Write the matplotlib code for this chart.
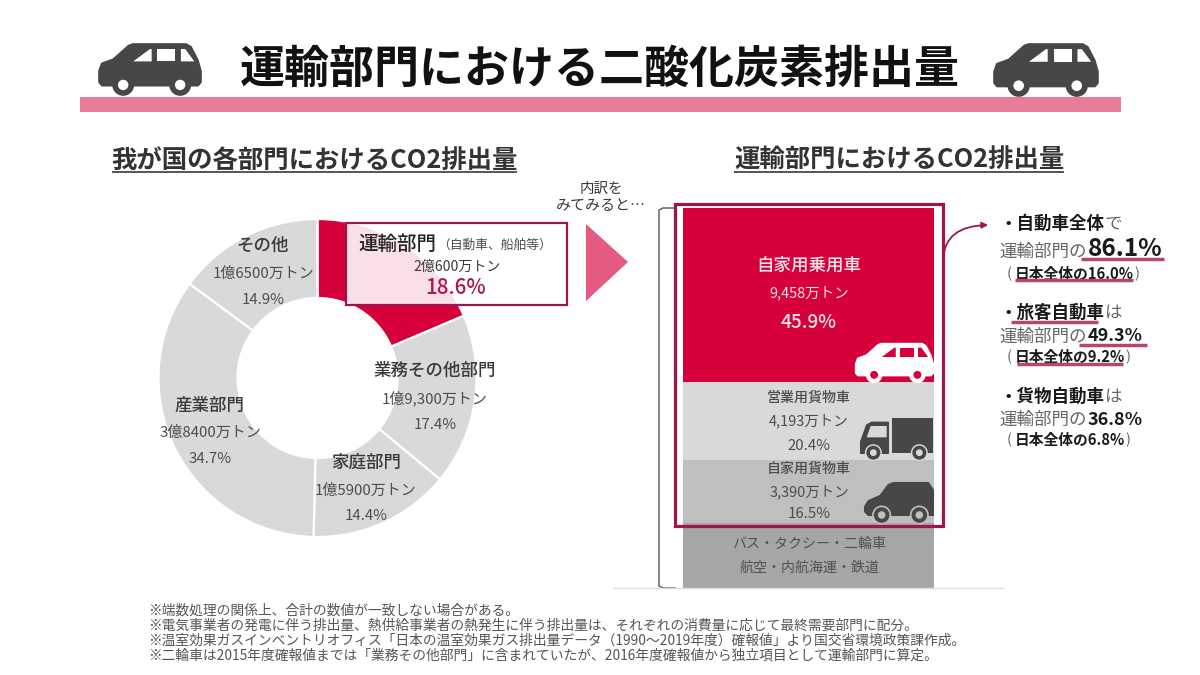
import matplotlib
matplotlib.use("Agg")
import matplotlib.pyplot as plt
from matplotlib.patches import Polygon, Circle, Rectangle, FancyArrowPatch

plt.rcParams['font.family'] = ['Noto Sans CJK JP', 'DejaVu Sans']

# ---------- data ----------
sector_names = ['運輸部門', '業務その他部門', '家庭部門', '産業部門', 'その他']
sector_tons = ['2億600万トン', '1億9,300万トン', '1億5900万トン', '3億8400万トン', '1億6500万トン']
sector_share = [18.6, 17.4, 14.4, 34.7, 14.9]
sector_colors = ['#D6003A', '#D9D9D9', '#D9D9D9', '#D9D9D9', '#D9D9D9']

transport_names = ['自家用乗用車', '営業用貨物車', '自家用貨物車', 'その他']
transport_tons = ['9,458万トン', '4,193万トン', '3,390万トン', '']
transport_share = [45.9, 20.4, 16.5, 17.2]
transport_colors = ['#D6003A', '#D9D9D9', '#BFBFBF', '#A6A6A6']

footnotes = [
    '※端数処理の関係上、合計の数値が一致しない場合がある。',
    '※電気事業者の発電に伴う排出量、熱供給事業者の熱発生に伴う排出量は、それぞれの消費量に応じて最終需要部門に配分。',
    '※温室効果ガスインベントリオフィス「日本の温室効果ガス排出量データ（1990～2019年度）確報値」より国交省環境政策課作成。',
    '※二輪車は2015年度確報値までは「業務その他部門」に含まれていたが、2016年度確報値から独立項目として運輸部門に算定。',
]

W, H = 1200, 675
fig = plt.figure(figsize=(12, 6.75), dpi=100, facecolor='white')

def axes_px(x0, y0, x1, y1, z):
    return fig.add_axes([x0 / W, 1 - y1 / H, (x1 - x0) / W, (y1 - y0) / H], zorder=z)

# ---------- donut ----------
cx, cy, R = 317.5, 378, 159
pax = axes_px(cx - R, cy - R, cx + R, cy + R, 1)
pax.pie(sector_share, colors=sector_colors, startangle=90, counterclock=False, radius=1,
        wedgeprops=dict(width=1 - 80 / 159, edgecolor='white', linewidth=1.6))
pax.set_xlim(-1, 1); pax.set_ylim(-1, 1); pax.set_aspect('equal')

# ---------- stacked bar ----------
bax = axes_px(683, 208, 934, 588, 1)
bottom = 0
for v, c in zip(transport_share, transport_colors):
    bax.bar(0, v, bottom=bottom, width=1, color=c, linewidth=0)
    bottom += v
bax.set_xlim(-.5, .5); bax.set_ylim(100, 0); bax.axis('off')

# ---------- overlay in pixel space ----------
ax = fig.add_axes([0, 0, 1, 1], zorder=5)
ax.set_xlim(0, W); ax.set_ylim(H, 0); ax.axis('off'); ax.patch.set_alpha(0)

DARK = '#3A3A3A'; GRAY = '#4D4D4D'; MAROON = '#9C174E'; UL = '#B5476F'

def T(x, y, s, px, color=DARK, weight='normal', ha='center', z=10):
    return ax.text(x, y + 1.8, s, fontsize=px * 0.72, color=color, fontweight=weight,
                   ha=ha, va='center', zorder=z)

def car(x, y, w, body, win, hub):
    p = lambda pts: [(x + a * w, y + b * w) for a, b in pts]
    ax.add_patch(Polygon(p([(.015, .27), (.04, .2), (.15, .16), (.295, .03), (.335, .015), (.845, .015), (.89, .04),
                            (.955, .165), (.985, .27), (.985, .375), (.96, .405), (.04, .405), (.015, .375)]),
                         closed=True, fc=body, ec=body, lw=2.0, joinstyle='round', zorder=6))
    for w_pts in ([(.339, .177), (.5, .058), (.516, .058), (.516, .177)],
                  [(.571, .058), (.742, .058), (.742, .177), (.571, .177)],
                  [(.797, .058), (.839, .058), (.926, .177), (.797, .177)]):
        ax.add_patch(Polygon(p(w_pts), closed=True, fc=win, ec='none', zorder=7))
    for wx in (.242, .79):
        c = (x + wx * w, y + .403 * w)
        ax.add_patch(Circle(c, .105 * w, fc=body, ec='none', zorder=8))
        ax.add_patch(Circle(c, .05 * w, fc=hub, ec='none', zorder=9))

# header
T(600, 68, '運輸部門における二酸化炭素排出量', 45, color='#111111', weight='bold')
ax.add_patch(Rectangle((80, 97), 1041, 15, fc='#EA7C9A', ec='none'))
car(98, 43, 104, '#474747', 'white', 'white')
car(993, 43, 106, '#474747', 'white', 'white')

# sub headings
T(314.5, 158.5, '我が国の各部門におけるCO2排出量', 25.4, color='#333333', weight='bold')
ax.plot([113, 516], [172, 172], color='#555555', lw=1.4)
T(899, 158.5, '運輸部門におけるCO2排出量', 25.4, color='#333333', weight='bold')
ax.plot([735, 1063], [172, 172], color='#555555', lw=1.4)

# donut labels
pos = {1: (435, 369, 397, 423), 2: (366, 461, 489, 514), 3: (210, 404, 431, 457), 4: (263, 244, 272, 298)}
for i, (x, y1, y2, y3) in pos.items():
    T(x, y1, sector_names[i], 17.5, weight=500)
    T(x, y2, sector_tons[i], 15, color=GRAY)
    T(x, y3, f'{sector_share[i]}%', 15, color=GRAY)

# highlight box
ax.add_patch(Rectangle((346, 223), 221, 82, fc=(1, 1, 1, .88), ec=MAROON, lw=1.6, zorder=6))
T(397, 242, sector_names[0], 19.5, color='#222222', weight=500)
T(495, 243, '（自動車、船舶等）', 12.8, color=GRAY)
T(457, 265, sector_tons[0], 14, color=DARK)
T(456, 286, f'{sector_share[0]}%', 20.5, color='#B01550', weight=500)

# arrow triangle
ax.add_patch(Polygon([(586, 224), (628, 262), (586, 301)], closed=True, fc='#E55A80', ec='none'))
T(601, 187, '内訳を', 14.5)
T(601, 204, 'みてみると…', 15)

# bracket
ax.plot([675, 663, 659, 659, 663, 675], [208, 208, 210, 586, 588, 588], color='#6E6E6E', lw=1.2)
ax.plot([614, 1003], [588, 588], color='#DDDDDD', lw=1)

# bar labels
T(809, 264, transport_names[0], 17.5, color='#F7E6EA', weight=500)
T(809, 291, transport_tons[0], 14.5, color='#F7E6EA')
T(809, 321, f'{transport_share[0]}%', 19, color='#F7E6EA', weight=500)
T(809, 396, transport_names[1], 14, color=GRAY, weight=500)
T(809, 419, transport_tons[1], 14.5, color=GRAY)
T(809, 444, f'{transport_share[1]}%', 15, color=GRAY)
T(809, 467, transport_names[2], 14, color=GRAY, weight=500)
T(809, 490, transport_tons[2], 14.5, color=GRAY)
T(809, 512, f'{transport_share[2]}%', 15, color=GRAY)
T(809, 542, 'バス・タクシー・二輪車', 14, color='#505050')
T(809, 566, '航空・内航海運・鉄道', 14, color='#505050')

# white car on red
car(855, 343, 79, 'white', '#D6003A', '#D6003A')

# truck
z = lambda pts: [(560 + a / 3, 170 + b / 3) for a, b in pts]
ICON = '#474747'
ax.add_patch(Polygon(z([(995, 745), (1120, 745), (1120, 850), (995, 850)]), closed=True, fc=ICON, ec='none', zorder=6))
ax.add_patch(Polygon(z([(902, 815), (920, 765), (935, 757), (985, 757), (985, 850), (902, 850)]), closed=True,
                     fc=ICON, ec=ICON, lw=1, joinstyle='round', zorder=6))
ax.add_patch(Polygon(z([(920, 802), (932, 768), (980, 768), (980, 802)]), closed=True, fc='#D9D9D9', ec='none', zorder=7))
for wx in (940, 1078):
    c = (560 + wx / 3, 170 + 848 / 3)
    ax.add_patch(Circle(c, 8.5, fc='#D9D9D9', ec='none', zorder=7))
    ax.add_patch(Circle(c, 7, fc=ICON, ec='none', zorder=8))
    ax.add_patch(Circle(c, 3.4, fc='#D9D9D9', ec='none', zorder=9))

# van
ax.add_patch(Polygon(z([(914, 1010), (925, 992), (960, 977), (985, 944), (1000, 938), (1105, 938), (1120, 960),
                        (1120, 1036), (925, 1036), (914, 1025)]), closed=True, fc=ICON, ec=ICON, lw=1,
                     joinstyle='round', zorder=6))
for wx in (965, 1078):
    c = (560 + wx / 3, 170 + 1035 / 3)
    ax.add_patch(Circle(c, 9.5, fc='#BFBFBF', ec='none', zorder=7))
    ax.add_patch(Circle(c, 7.8, fc=ICON, ec='none', zorder=8))
    ax.add_patch(Circle(c, 3.8, fc='#BFBFBF', ec='none', zorder=9))

# big outline box
ax.add_patch(Rectangle((675, 204), 268, 322, fc='none', ec=MAROON, lw=2.3, zorder=11))

# curved arrow
ax.add_patch(FancyArrowPatch((943, 262), (991, 225), connectionstyle='angle3,angleA=90,angleB=0',
                             arrowstyle='-|>', mutation_scale=9, color=MAROON, lw=1.3, zorder=11))

# right-hand notes
LG = '#666666'; BK = '#1A1A1A'
# block 1
T(1000, 222, '・自動車全体', 17.5, color=BK, weight='bold', ha='left')
T(1105, 222, 'で', 17.5, color=LG, ha='left')
T(999, 250, '運輸部門の', 17.5, color=LG, ha='left')
T(1088, 247, '86.1%', 24.5, color=BK, weight='bold', ha='left')
T(1007, 272, '(', 14.5, color=LG, ha='left')
T(1015, 272, '日本全体の16.0%', 14.8, color=BK, weight='bold', ha='left')
T(1134, 272, ')', 14.5, color=LG, ha='left')
# block 2
T(999, 311, '・旅客自動車', 17.5, color=BK, weight='bold', ha='left')
T(1105, 311, 'は', 17.5, color=LG, ha='left')
T(999, 335, '運輸部門の', 17.5, color=LG, ha='left')
T(1088, 334, '49.3%', 18, color=BK, weight='bold', ha='left')
T(1007, 355, '(', 14.5, color=LG, ha='left')
T(1015, 355, '日本全体の9.2%', 14.8, color=BK, weight='bold', ha='left')
T(1125, 355, ')', 14.5, color=LG, ha='left')
# block 3
T(999, 395, '・貨物自動車', 17.5, color=BK, weight='bold', ha='left')
T(1105, 395, 'は', 17.5, color=LG, ha='left')
T(999, 418, '運輸部門の', 17.5, color=LG, ha='left')
T(1088, 418, '36.8%', 18, color=BK, weight='bold', ha='left')
T(1007, 438, '(', 14.5, color=LG, ha='left')
T(1015, 438, '日本全体の6.8%', 14.8, color=BK, weight='bold', ha='left')
T(1125, 438, ')', 14.5, color=LG, ha='left')
for x0, x1, y in [(1081, 1164, 259), (1015, 1133, 280), (1011, 1098, 322), (1079, 1147, 345), (1017, 1123, 364)]:
    ax.plot([x0, x1], [y, y], color=UL, lw=2.5, solid_capstyle='butt', zorder=12)

# footnotes
for y, s in zip([609, 624, 639, 654], footnotes):
    T(148, y, s, 13.8, color='#555555', ha='left')

fig.savefig('out.png', dpi=100, facecolor='white')
